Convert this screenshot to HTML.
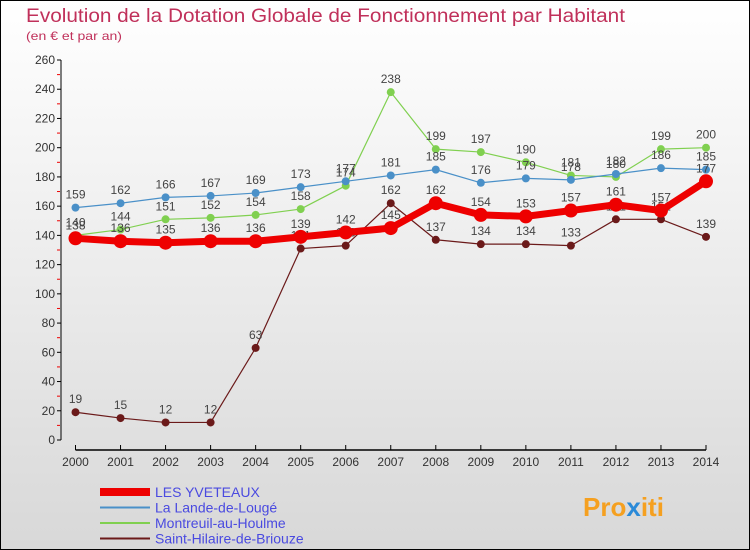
<!DOCTYPE html>
<html><head><meta charset="utf-8"><style>
body{margin:0}
svg{display:block;font-family:"Liberation Sans",sans-serif}
</style></head><body>
<svg width="750" height="550">
<defs><linearGradient id="bg" x1="0" y1="0" x2="0" y2="1"><stop offset="0" stop-color="#ffffff"/><stop offset="1" stop-color="#d8d8d8"/></linearGradient></defs>
<rect x="0.5" y="0.5" width="749" height="549" fill="url(#bg)" stroke="#000"/>
<text x="26" y="22" font-size="19" fill="#c0305a" textLength="599" lengthAdjust="spacingAndGlyphs">Evolution de la Dotation Globale de Fonctionnement par Habitant</text>
<text x="26" y="40" font-size="12" fill="#c0305a" textLength="96" lengthAdjust="spacingAndGlyphs">(en € et par an)</text>
<g id="axes"></g><g id="series"></g><g id="legend"></g>
<text x="583" y="516" font-size="26" font-weight="bold" fill="#f5a020">Pro<tspan fill="#2a8ad8">x</tspan>iti</text>
</svg>
<script>
const years=[2000,2001,2002,2003,2004,2005,2006,2007,2008,2009,2010,2011,2012,2013,2014];
const yTicks=[0,20,40,60,80,100,120,140,160,180,200,220,240,260];
const yveteaux=[138,136,135,136,136,139,142,145,162,154,153,157,161,157,177];
const lande=[159,162,166,167,169,173,177,181,185,176,179,178,182,186,185];
const montreuil=[140,144,151,152,154,158,174,238,199,197,190,181,180,199,200];
const hilaire=[19,15,12,12,63,131,133,162,137,134,134,133,151,151,139];
const NS="http://www.w3.org/2000/svg";
const X=i=>75.5+i*(706-75.5)/(years.length-1);
const Y=v=>440-v*380/260;
function mk(t,a,p){const e=document.createElementNS(NS,t);for(const k in a)e.setAttribute(k,a[k]);p.appendChild(e);return e;}
const ax=document.getElementById('axes');
const yl=mk('line',{x1:61,y1:Y(260),x2:61,y2:Y(0),stroke:'#000'},ax);


yTicks.forEach((v,i)=>{
  mk('line',{x1:57,x2:61,y1:Y(v),y2:Y(v),stroke:'#000'},ax);
  if(i<yTicks.length-1)mk('line',{x1:57,x2:60,y1:Y(v+10),y2:Y(v+10),stroke:'#e00'},ax);
  const t=mk('text',{x:55,y:Y(v)+4,'font-size':12,'text-anchor':'end',fill:'#333'},ax);t.textContent=v;
  
  
});
const xl=mk('line',{x1:X(0),x2:X(14),y1:450,y2:450,stroke:'#000','stroke-width':1.5},ax);


years.forEach((y,i)=>{
  mk('line',{x1:X(i),x2:X(i),y1:445,y2:450,stroke:'#000'},ax);
  const t=mk('text',{x:X(i),y:466,'font-size':12,'text-anchor':'middle',fill:'#333'},ax);t.textContent=y;
  
  
});
const sg=document.getElementById('series');
function series(d,color,w,r,name){
  const g=mk('g',{},sg);
  
  
  mk('polyline',{points:d.map((v,i)=>X(i)+','+Y(v)).join(' '),fill:'none',stroke:color,'stroke-width':w,'stroke-linejoin':'round'},g);
  d.forEach((v,i)=>{
    const c=mk('circle',{cx:X(i),cy:Y(v),r:r,fill:color},g);
    
    
    const t=mk('text',{x:X(i),y:Y(v)-9,'font-size':12,'text-anchor':'middle',fill:'#444'},g);t.textContent=v;
    
    
  });
}
series(hilaire,'#6b1a1a',1.2,4,'saint-hilaire-series');
series(montreuil,'#80d050',1.2,4,'montreuil-series');
series(lande,'#4a90c8',1.2,4,'lande-series');
series(yveteaux,'#ee0000',7,7,'yveteaux-series');
const lg=document.getElementById('legend');
[['LES YVETEAUX','#ee0000',8],['La Lande-de-Lougé','#4a90c8',2],['Montreuil-au-Houlme','#80d050',2],['Saint-Hilaire-de-Briouze','#6b1a1a',2]].forEach((e,i)=>{
  const y=492+i*15.5;
  const g=mk('g',{},lg);
  
  
  mk('line',{x1:100,x2:150,y1:y,y2:y,stroke:e[1],'stroke-width':e[2]},g);
  const t=mk('text',{x:155,y:y+5,'font-size':14,fill:'#4a4ae0'},g);t.textContent=e[0];
});
</script>
</body></html>
